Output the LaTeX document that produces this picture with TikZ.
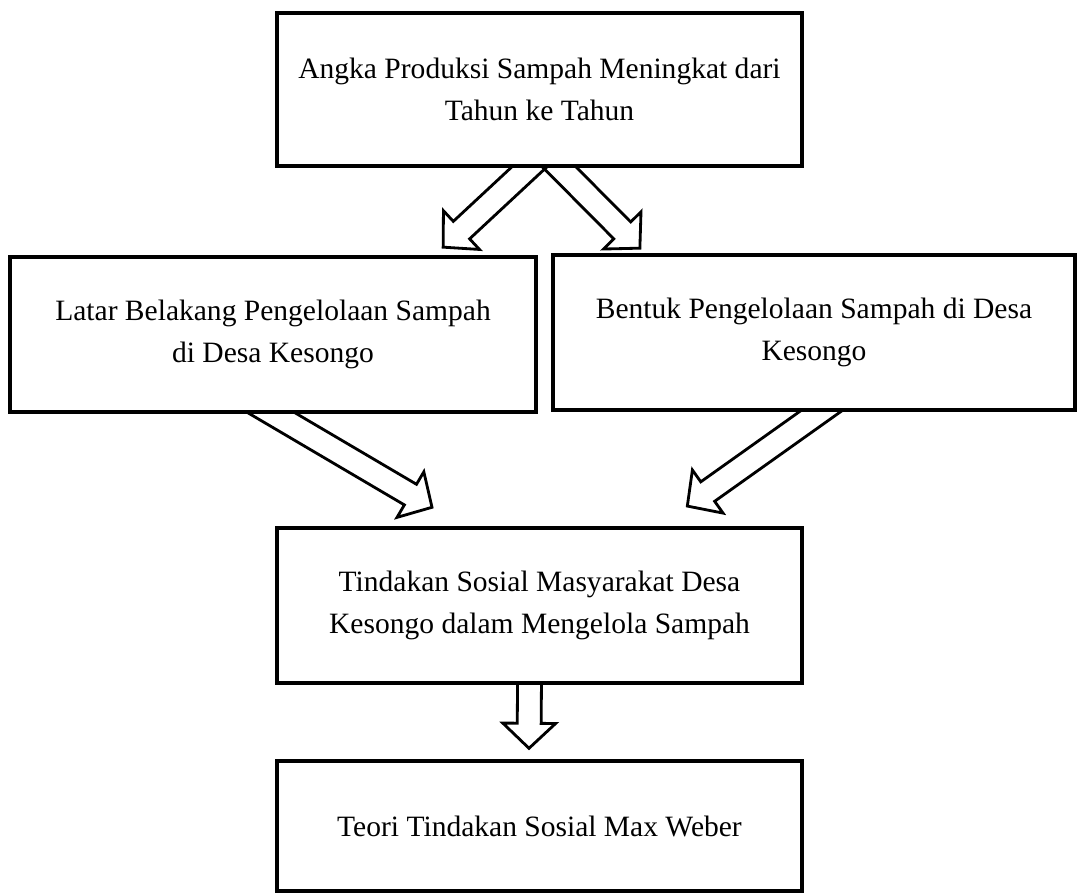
\documentclass[tikz,border=0pt]{standalone}
\usepackage{fontspec}
\setmainfont{Liberation Serif}
\usepackage{tikz}
\usetikzlibrary{calc,backgrounds}

\tikzset{
  box/.style={draw, line width=2.4pt, fill=white, align=center, inner sep=0pt,
    minimum width=13.125cm, minimum height=3.875cm,
    font=\fontsize{21}{30}\selectfont},
  hollow/.style={draw, line width=2pt, line join=miter}
}

% block arrow with an open head, from #1 to the tip #2
\newcommand{\hollowarrow}[2]{%
  \draw[hollow] let \p1=(#1), \p2=(#2),
      \n1={atan2(\y2-\y1,\x2-\x1)}, \n2={veclen(\x2-\x1,\y2-\y1)} in
    [shift={(\p1)}, rotate=\n1]
    (-20pt,-8.5pt) -- (\n2-17.8pt,-8.5pt) -- (\n2-17.8pt,-18.8pt) -- (\n2,0pt)
    -- (\n2-17.8pt,18.8pt) -- (\n2-17.8pt,8.5pt) -- (-20pt,8.5pt);}

\begin{document}
\begin{tikzpicture}[x=0.025cm, y=-0.025cm]
        \useasboundingbox (0,0) rectangle (1077,894);

        \node[box, minimum height=3.825cm] (angka) at (539.5,89.5) {Angka Produksi Sampah Meningkat dari\\Tahun ke Tahun};
        \node[box, minimum width=13.15cm] (latar) at (273,334.5) {Latar Belakang Pengelolaan Sampah\\di Desa Kesongo};
        \node[box, minimum width=13.05cm] (bentuk) at (814,332.5) {Bentuk Pengelolaan Sampah di Desa\\Kesongo};
        \node[box] (tindakan) at (539.5,605.5) {Tindakan Sosial Masyarakat Desa\\Kesongo dalam Mengelola Sampah};
        \node[box, minimum height=3.25cm] (teori) at (539.5,826) {Teori Tindakan Sosial Max Weber};

        \coordinate (angka-l) at ($(angka.south)+(-11,0)$);
        \coordinate (angka-r) at ($(angka.south)+(20.5,0)$);
        \coordinate (latar-in) at ($(latar.north)+(170,-8)$);
        \coordinate (bentuk-in) at ($(bentuk.north)+(-174,-5)$);
        \coordinate (latar-out) at (latar.south);
        \coordinate (bentuk-out) at ($(bentuk.south)+(6,0)$);
        \coordinate (tindakan-l) at ($(tindakan.north)+(-107.5,-19)$);
        \coordinate (tindakan-r) at ($(tindakan.north)+(147.5,-20)$);
        \coordinate (tindakan-out) at ($(tindakan.south)+(-10,0)$);
        \coordinate (teori-in) at ($(teori.north)+(-10.5,-11)$);

        \begin{scope}[on background layer]
        \hollowarrow{angka-l}{latar-in}
        \hollowarrow{angka-r}{bentuk-in}
        \hollowarrow{latar-out}{tindakan-l}
        \hollowarrow{bentuk-out}{tindakan-r}
        \hollowarrow{tindakan-out}{teori-in}
        \end{scope}
    \end{tikzpicture}
\end{document}
